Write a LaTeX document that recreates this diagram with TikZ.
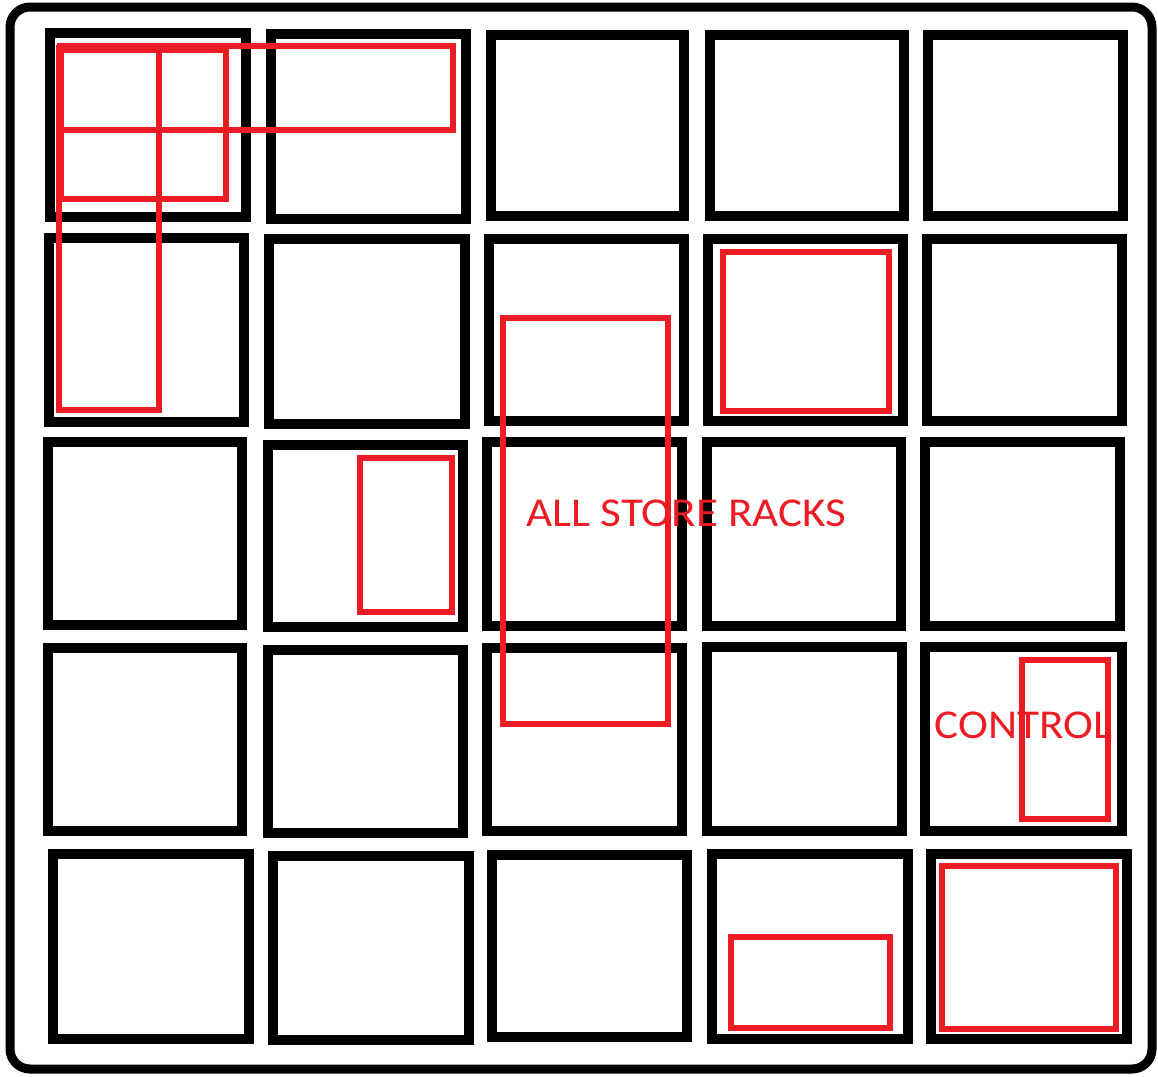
\documentclass[tikz,border=0pt]{standalone}
\usepackage{fontspec}
\setmainfont{Carlito}
\definecolor{pred}{HTML}{ED1C24}
\tikzset{
  rack/.style={draw=black, line width=10pt},
  mark red/.style={draw=pred, line width=6pt},
  frame/.style={draw=black, line width=9pt, rounded corners=20pt},
  lbl/.style={text=pred, font=\fontsize{41}{44}\selectfont, inner sep=0pt, xscale=1.1}
}
\begin{document}
\begin{tikzpicture}[x=1pt,y=-1pt]
\useasboundingbox (0,0) rectangle (1158,1076);
\fill[white] (0,0) rectangle (1158,1076);
% outer frame
\draw[frame] (10,7) rectangle (1152,1069);
% row 1
\draw[rack] (50,33) rectangle (246,217);
\draw[rack] (271,34) rectangle (466,219);
\draw[rack] (491,35) rectangle (684,216);
\draw[rack] (710,35) rectangle (904,216);
\draw[rack] (928,35) rectangle (1123,216);
% row 2
\draw[rack] (49,238) rectangle (244,422);
\draw[rack] (269,239) rectangle (465,424);
\draw[rack] (489,239) rectangle (684,421);
\draw[rack] (708,239) rectangle (903,421);
\draw[rack] (927,239) rectangle (1122,421);
% row 3
\draw[rack] (48,442) rectangle (242,625);
\draw[rack] (268,445) rectangle (463,627);
\draw[rack] (487,442) rectangle (682,626);
\draw[rack] (707,442) rectangle (901,626);
\draw[rack] (925,442) rectangle (1120,626);
% row 4
\draw[rack] (48,648) rectangle (242,831);
\draw[rack] (268,650) rectangle (463,833);
\draw[rack] (487,648) rectangle (682,831);
\draw[rack] (707,647) rectangle (902,831);
\draw[rack] (925,647) rectangle (1122,831);
% row 5
\draw[rack] (53,854) rectangle (249,1039);
\draw[rack] (273,856) rectangle (469,1040);
\draw[rack] (492,855) rectangle (687,1037);
\draw[rack] (712,854) rectangle (908,1039);
\draw[rack] (931,854) rectangle (1127,1039);
% red marks
\draw[mark red] (59,48) rectangle (159,410);
\draw[mark red] (61,50) rectangle (226,199);
\draw[mark red] (60,46) rectangle (453,130);
\draw[mark red] (723,252) rectangle (889,411);
\draw[mark red] (360,458) rectangle (452,612);
\draw[mark red] (503,318) rectangle (668,724);
\draw[mark red] (1022,660) rectangle (1108,819);
\draw[mark red] (731,937) rectangle (890,1028);
\draw[mark red] (942,866) rectangle (1116,1029);
% labels
\node[lbl] (allracks) at (686.5,513) {ALL STORE RACKS};
\node[lbl] (control) at (1023.5,725) {CONTROL};
\end{tikzpicture}
\end{document}
